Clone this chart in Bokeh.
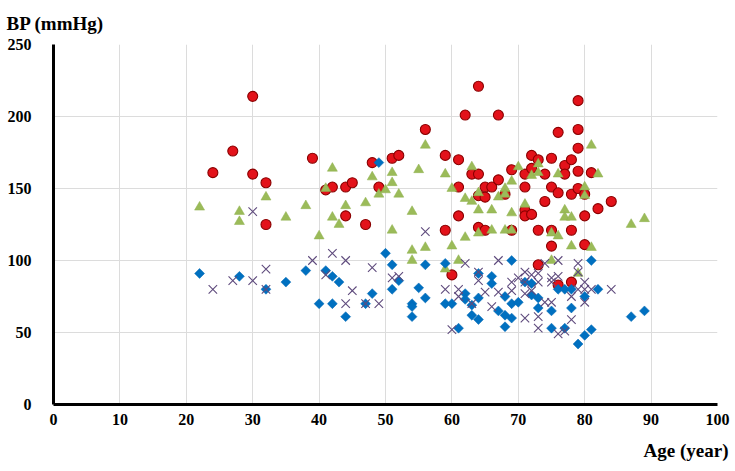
from bokeh.plotting import figure
from bokeh.models import Range1d, FixedTicker, Title
from bokeh.embed import file_html
from bokeh.resources import INLINE
import math

# ---- data ----
red_age = [24, 27, 30, 30, 32, 32, 39, 41, 42, 44, 44, 45, 47, 48, 49, 51, 52, 56, 59, 59, 60,
           61, 61, 61, 62, 63, 64, 64, 64, 64, 65, 65, 65, 66, 67, 67, 68, 69, 69, 71, 71, 71, 71,
           72, 72, 72, 73, 73, 73, 74, 74, 75, 75, 75, 75, 76, 76, 76, 77, 77, 78, 78, 78, 78,
           79, 79, 79, 79, 79, 80, 80, 80, 81, 82, 84]
red_bp = [161, 176, 214, 160, 154, 125, 171, 149, 151, 151, 131, 154, 125, 168, 151, 171, 173, 191, 173, 121, 90,
          170, 151, 131, 201, 160, 160, 221, 145, 123, 151, 144, 121, 151, 201, 156, 146, 163, 121, 160, 151, 135, 131,
          173, 164, 132, 170, 121, 97, 160, 141, 171, 151, 121, 110, 189, 147, 83, 166, 160, 170, 146, 121, 85,
          211, 191, 178, 162, 150, 146, 131, 111, 161, 136, 141]

green_age = [22, 28, 28, 32, 35, 38, 40, 41, 42, 42, 43, 44, 47, 48, 49, 50, 51, 51, 51, 52, 54, 54, 54,
             55, 56, 56, 59, 59, 60, 60, 61, 62, 62, 63, 63, 64, 64, 64, 66, 66, 67, 68, 68, 68, 69, 69, 69,
             70, 71, 72, 73, 73, 75, 75, 76, 76, 77, 77, 78, 78, 79, 80, 80, 81, 81, 82, 87, 89]
green_bp = [137, 134, 127, 144, 130, 138, 117, 150, 164, 130, 125, 138, 140, 158, 146, 149, 161, 154, 121, 146, 134, 107, 100,
            163, 180, 109, 160, 94, 150, 110, 100, 143, 116, 165, 141, 147, 135, 119, 135, 121, 144, 150, 146, 121, 155, 133, 121,
            165, 139, 159, 167, 161, 119, 100, 160, 117, 135, 130, 130, 110, 91, 151, 145, 180, 109, 160, 125, 129]

blue_age = [22, 28, 32, 35, 38, 40, 41, 42, 42, 43, 44, 47, 48, 49, 50, 51, 51, 52, 54, 54, 54, 55, 56, 56,
            59, 59, 60, 61, 62, 62, 63, 63, 64, 64, 64, 66, 66, 67, 68, 68, 68, 69, 69, 69, 70, 71, 72, 72,
            73, 73, 75, 75, 76, 77, 77, 78, 78, 79, 80, 80, 81, 81, 82, 87, 89]
blue_bp = [91, 89, 80, 85, 93, 70, 93, 89, 70, 85, 61, 70, 77, 168, 105, 97, 80, 86, 70, 68, 61, 81, 97, 74,
           98, 70, 70, 53, 77, 73, 69, 62, 91, 74, 59, 89, 84, 65, 75, 62, 54, 100, 70, 60, 71, 85, 84, 76,
           74, 67, 65, 53, 80, 80, 53, 80, 67, 42, 75, 48, 100, 52, 80, 61, 65]

x_age = [24, 27, 30, 30, 32, 32, 39, 41, 42, 44, 44, 45, 47, 48, 49, 51, 52, 56, 59, 60, 61, 61, 62, 63,
         64, 64, 65, 66, 67, 67, 69, 69, 70, 71, 71, 71, 71, 72, 72, 73, 73, 73, 73, 74, 74, 75, 75, 75,
         76, 76, 76, 77, 78, 78, 79, 79, 79, 80, 80, 80, 81, 84]
x_bp = [80, 86, 86, 134, 94, 80, 100, 90, 105, 100, 70, 79, 70, 95, 70, 88, 89, 120, 80, 52, 80, 75, 98, 70,
        92, 86, 78, 68, 100, 78, 85, 79, 88, 92, 85, 77, 60, 90, 79, 91, 85, 61, 53, 98, 71, 88, 71, 85,
        100, 89, 49, 51, 59, 75, 98, 92, 80, 85, 80, 71, 80, 80]

x_ticks = [0, 10, 20, 30, 40, 50, 60, 70, 80, 90, 100]
y_ticks = [0, 50, 100, 150, 200, 250]

FONT = "Liberation Serif"

p = figure(width=730, height=470, output_backend="svg", toolbar_location=None,
           x_range=Range1d(0, 100), y_range=Range1d(0, 250),
           min_border_left=53, min_border_right=13, min_border_top=44, min_border_bottom=66)
p.outline_line_color = None
p.background_fill_color = "white"
p.border_fill_color = "white"

for ax, ticks in ((p.xaxis, x_ticks), (p.yaxis, y_ticks)):
    ax.ticker = FixedTicker(ticks=ticks)
    ax.axis_line_color = "black"
    ax.axis_line_width = 3
    ax.major_tick_line_color = None
    ax.minor_tick_line_color = None
    ax.major_tick_out = 0
    ax.major_tick_in = 0
    ax.major_label_text_font = FONT
    ax.major_label_text_font_style = "bold"
    ax.major_label_text_font_size = "16px"
    ax.major_label_text_color = "black"
p.yaxis.major_label_standoff = 22
p.xaxis.major_label_standoff = 9

p.xgrid.ticker = FixedTicker(ticks=x_ticks)
p.ygrid.ticker = FixedTicker(ticks=y_ticks)
p.grid.grid_line_color = "#dcdcdc"
p.grid.grid_line_width = 1

p.scatter(red_age, red_bp, marker="circle", size=10, fill_color="#e3121a",
          line_color="#8a0000", line_width=1.1)
p.scatter(green_age, green_bp, marker="triangle", size=10, fill_color="#9bbb59",
          line_color="#8fb04f", line_width=0.5)
p.scatter(blue_age, blue_bp, marker="square", angle=math.pi / 4, size=7,
          fill_color="#0070c0", line_color="#0066b3", line_width=0.5)
p.scatter(x_age, x_bp, marker="x", size=12, line_color="#5f4b7d", line_width=1.1)

p.title.text = "BP (mmHg)"
p.title.align = "left"
p.title.offset = -47
p.title.standoff = 21
p.title.text_font = FONT
p.title.text_font_style = "bold"
p.title.text_font_size = "19px"
p.title.text_color = "black"

p.add_layout(Title(text="Age (year)", align="right", offset=-11, standoff=20,
                   text_font=FONT, text_font_style="bold", text_font_size="19px",
                   text_color="black"), "below")

open("out.html", "w").write(file_html(p, INLINE))
